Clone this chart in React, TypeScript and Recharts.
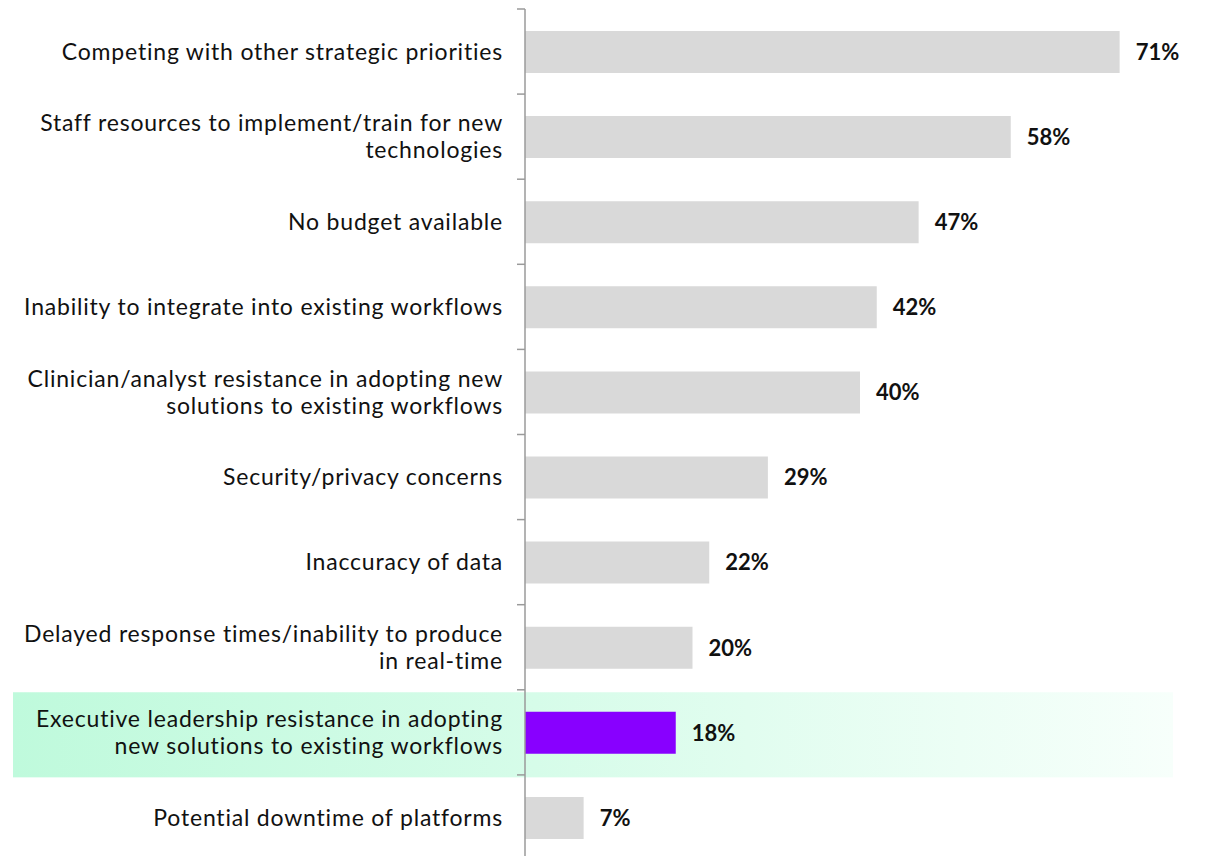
import { BarChart, Bar, XAxis, YAxis, Cell, LabelList } from 'recharts';

const categories = [
  'Competing with other strategic priorities',
  'Staff resources to implement/train for new\ntechnologies',
  'No budget available',
  'Inability to integrate into existing workflows',
  'Clinician/analyst resistance in adopting new\nsolutions to existing workflows',
  'Security/privacy concerns',
  'Inaccuracy of data',
  'Delayed response times/inability to produce\nin real-time',
  'Executive leadership resistance in adopting\nnew solutions to existing workflows',
  'Potential downtime of platforms',
];
const values = [71, 58, 47, 42, 40, 29, 22, 20, 18, 7];
const highlighted = 'Executive leadership resistance in adopting\nnew solutions to existing workflows';

const data = categories.map((name, i) => ({ name, value: values[i] }));

const FONT = 'Lato, "Open Sans", sans-serif';
const CHART_H = 860;
const TOP = 9;
const BAND = (CHART_H - TOP) / categories.length;

function WrappedTick({ x, y, payload, index }: any) {
  const lines = String(payload.value).split('\n');
  const lineH = 27;
  const startY = y - ((lines.length - 1) * lineH) / 2;
  const isLast = index === categories.length - 1;
  const ax = x + 8;
  return (
    <g>
      <line x1={ax - 8} x2={ax} y1={y - BAND / 2} y2={y - BAND / 2} stroke="#9a9a9a" strokeWidth={1.5} />
      {isLast && (
        <line x1={ax - 8} x2={ax} y1={y + BAND / 2} y2={y + BAND / 2} stroke="#9a9a9a" strokeWidth={1.5} />
      )}
      <text x={x - 14} y={startY} textAnchor="end" fill="#111" fontSize={23} letterSpacing={0.8} fontFamily={FONT}>
        {lines.map((l, i) => (
          <tspan key={i} x={x - 14} y={startY + i * lineH} dy="0.35em">
            {l}
          </tspan>
        ))}
      </text>
    </g>
  );
}

// highlight band behind the highlighted row (full category height)
function RowBackground(props: any) {
  const { y, height, payload } = props;
  if (!payload || payload.name !== highlighted) return null;
  const cy = y + height / 2 + 2;
  return <rect x={13} y={cy - BAND / 2} width={1160} height={BAND} fill="url(#hl)" />;
}

export default function App() {
  return (
    <div style={{ position: 'absolute', left: 0, top: 0, width: 1206, height: 856, overflow: 'hidden', background: '#fff' }}>
      <svg width={0} height={0} style={{ position: 'absolute' }}>
        <defs>
          <linearGradient id="hl" x1="0" y1="0" x2="1" y2="0">
            <stop offset="0%" stopColor="#bffadc" />
            <stop offset="45%" stopColor="#d6fce9" />
            <stop offset="100%" stopColor="#f7fffb" />
          </linearGradient>
        </defs>
      </svg>
      <BarChart
        width={1206}
        height={CHART_H}
        data={data}
        layout="vertical"
        margin={{ top: TOP, right: 11, left: 0, bottom: 0 }}
      >
        <XAxis type="number" domain={[0, 80]} height={0} axisLine={false} tickLine={false} tick={false} />
        <YAxis
          type="category"
          dataKey="name"
          width={525}
          axisLine={{ stroke: '#9a9a9a', strokeWidth: 1.5 }}
          tickLine={false}
          tick={<WrappedTick />}
          interval={0}
        />
        <Bar dataKey="value" barSize={42} isAnimationActive={false} fill="#d9d9d9" background={<RowBackground />}>
          {data.map((d, i) => (
            <Cell key={i} fill={d.name === highlighted ? '#8800ff' : '#d9d9d9'} />
          ))}
          <LabelList
            dataKey="value"
            position="right"
            offset={16}
            formatter={(v: any) => `${v}%`}
            style={{ fontFamily: FONT, fontSize: 22, fontWeight: 700, fill: '#111' }}
          />
        </Bar>
      </BarChart>
    </div>
  );
}
